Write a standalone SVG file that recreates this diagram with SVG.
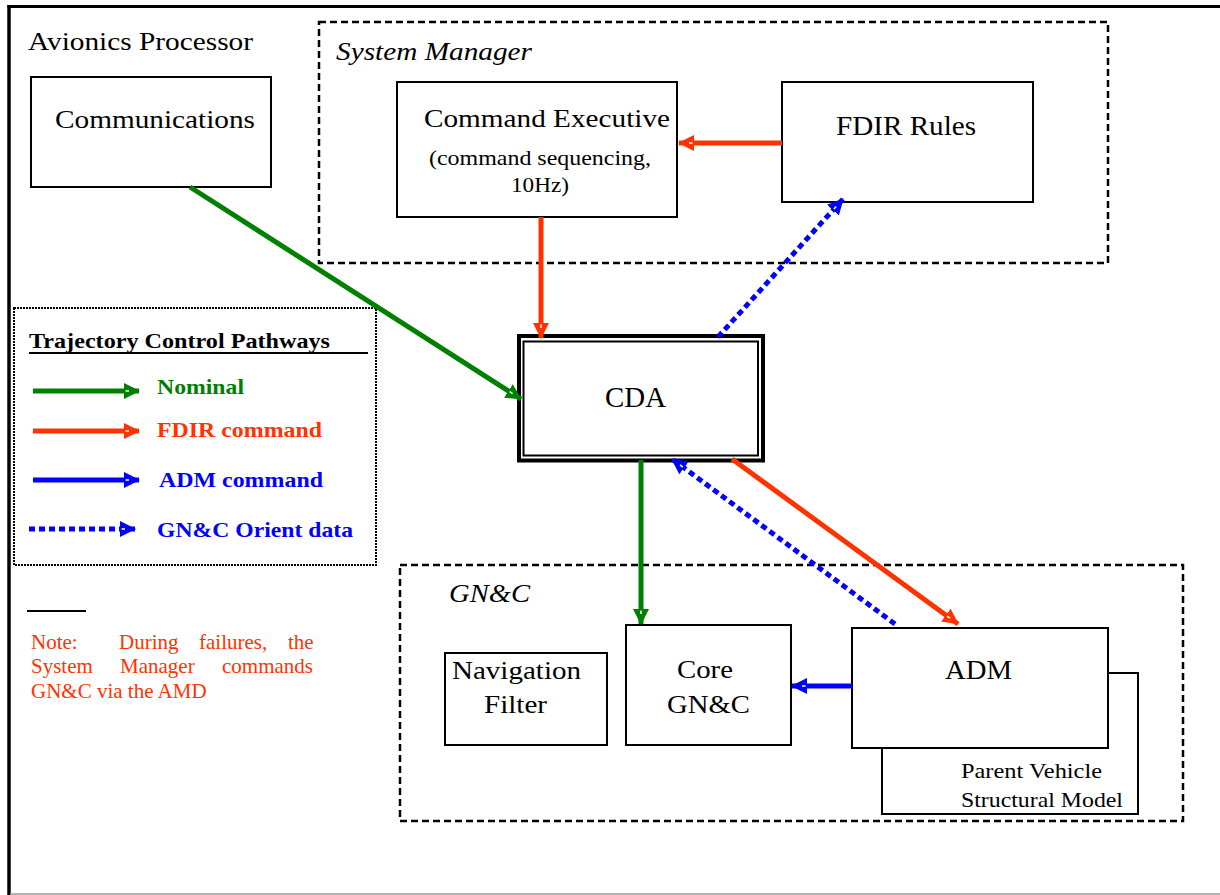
<svg xmlns="http://www.w3.org/2000/svg" width="1220" height="895" viewBox="0 0 1220 895">
  <style>
    .box { fill: #fff; stroke: #000; stroke-width: 2; }
    .grp { fill: none; stroke: #000; stroke-width: 2.5; stroke-dasharray: 7 4; }
    .t { font-family: "Liberation Serif", "Times New Roman", serif; fill: #000; }
    .it { font-style: italic; }
    .b { font-weight: bold; }
    .green { stroke: #008000; }
    .red { stroke: #FF3300; }
    .blue { stroke: #0000FF; }
    .ln { fill: none; stroke-width: 5; }
    .dot { stroke-dasharray: 6 4; }
    .note { font-family: "Liberation Serif", "Times New Roman", serif; fill: #FF3300; font-size: 21px; }
  </style>
  <defs>
    <marker id="ahGreen" viewBox="0 0 16 16" refX="15" refY="8" markerWidth="16" markerHeight="16" markerUnits="userSpaceOnUse" orient="auto">
      <path d="M0,0 L16,8 L0,16 Z" fill="#008000"/>
      <path d="M1.5,8 H5" stroke="#fff" stroke-width="1.5"/>
    </marker>
    <marker id="ahRed" viewBox="0 0 16 16" refX="15" refY="8" markerWidth="16" markerHeight="16" markerUnits="userSpaceOnUse" orient="auto">
      <path d="M0,0 L16,8 L0,16 Z" fill="#FF3300"/>
      <path d="M1.5,8 H5" stroke="#fff" stroke-width="1.5"/>
    </marker>
    <marker id="ahBlue" viewBox="0 0 16 16" refX="15" refY="8" markerWidth="16" markerHeight="16" markerUnits="userSpaceOnUse" orient="auto">
      <path d="M0,0 L16,8 L0,16 Z" fill="#0000FF"/>
      <path d="M1.5,8 H5" stroke="#fff" stroke-width="1.5"/>
    </marker>
  </defs>

  <rect x="0" y="0" width="1220" height="895" fill="#fff"/>

  <!-- processor frame -->
  <g id="frame">
    <line x1="7.5" y1="6.5" x2="1220" y2="6.5" stroke="#000" stroke-width="3"/>
    <line x1="9" y1="5" x2="9" y2="895" stroke="#000" stroke-width="3.5"/>
    <line x1="10" y1="894" x2="1220" y2="894" stroke="#999" stroke-width="1.5"/>
    <text class="t" x="28" y="50" font-size="26" textLength="225" lengthAdjust="spacingAndGlyphs">Avionics Processor</text>
  </g>

  <g id="communications">
    <rect class="box" x="31" y="77" width="240" height="110" stroke-width="1.5"/>
    <text class="t" x="55" y="128" font-size="26" textLength="200" lengthAdjust="spacingAndGlyphs">Communications</text>
  </g>

  <g id="system-manager">
    <rect class="grp" x="319" y="22" width="789" height="241"/>
    <text class="t it" x="336" y="60" font-size="26" textLength="196" lengthAdjust="spacingAndGlyphs">System Manager</text>
  </g>

  <g id="command-executive">
    <rect class="box" x="397" y="82" width="280" height="135"/>
    <text class="t" x="424" y="127" font-size="26" textLength="246" lengthAdjust="spacingAndGlyphs">Command Executive</text>
    <text class="t" x="429" y="165" font-size="22" textLength="222" lengthAdjust="spacingAndGlyphs">(command sequencing,</text>
    <text class="t" x="511" y="192" font-size="22" textLength="58" lengthAdjust="spacingAndGlyphs">10Hz)</text>
  </g>

  <g id="fdir-rules">
    <rect class="box" x="782" y="82" width="251" height="120"/>
    <text class="t" x="836" y="135" font-size="27" textLength="140" lengthAdjust="spacingAndGlyphs">FDIR Rules</text>
  </g>

  <g id="gnc">
    <rect class="grp" x="400" y="565" width="783" height="256"/>
    <text class="t it" x="449" y="602" font-size="25" textLength="81" lengthAdjust="spacingAndGlyphs">GN&amp;C</text>
  </g>

  <g id="navigation-filter">
    <rect class="box" x="445" y="653" width="162" height="92"/>
    <text class="t" x="452" y="679" font-size="26" textLength="129" lengthAdjust="spacingAndGlyphs">Navigation</text>
    <text class="t" x="484" y="713" font-size="26" textLength="63" lengthAdjust="spacingAndGlyphs">Filter</text>
  </g>

  <g id="core-gnc">
    <rect class="box" x="626" y="625" width="165" height="120"/>
    <text class="t" x="677" y="678" font-size="26" textLength="56" lengthAdjust="spacingAndGlyphs">Core</text>
    <text class="t" x="667" y="713" font-size="26" textLength="83" lengthAdjust="spacingAndGlyphs">GN&amp;C</text>
  </g>

  <g id="parent-vehicle-model">
    <rect class="box" x="882" y="673" width="256" height="141"/>
    <text class="t" x="961" y="778" font-size="22" textLength="141" lengthAdjust="spacingAndGlyphs">Parent Vehicle</text>
    <text class="t" x="961" y="807" font-size="22" textLength="162" lengthAdjust="spacingAndGlyphs">Structural Model</text>
  </g>

  <g id="adm">
    <rect class="box" x="852" y="628" width="256" height="120"/>
    <text class="t" x="945" y="679" font-size="27" textLength="67" lengthAdjust="spacingAndGlyphs">ADM</text>
  </g>

  <g id="cda">
    <rect x="519" y="336" width="244" height="124.5" fill="#fff" stroke="#000" stroke-width="4"/>
    <rect x="523.5" y="341.5" width="234.5" height="114" fill="none" stroke="#000" stroke-width="2"/>
    <text class="t" x="605" y="407" font-size="29" textLength="61" lengthAdjust="spacingAndGlyphs">CDA</text>
  </g>

  <!-- pathway legend -->
  <g id="legend">
    <rect x="14" y="308" width="362" height="257" fill="none" stroke="#000" stroke-width="2" stroke-dasharray="2 1"/>
    <text class="t b" x="29" y="348" font-size="22" textLength="301" lengthAdjust="spacingAndGlyphs">Trajectory Control Pathways</text>
    <line x1="29" y1="353" x2="368" y2="353" stroke="#000" stroke-width="2"/>
    <line class="ln green" x1="33" y1="391" x2="139" y2="391" marker-end="url(#ahGreen)"/>
    <text class="t b" x="157" y="394" font-size="22" fill="#008000" style="fill:#008000" textLength="87" lengthAdjust="spacingAndGlyphs">Nominal</text>
    <line class="ln red" x1="33" y1="431" x2="139" y2="431" marker-end="url(#ahRed)"/>
    <text class="t b" x="157" y="437" font-size="22" style="fill:#FF3300" textLength="165" lengthAdjust="spacingAndGlyphs">FDIR command</text>
    <line class="ln blue" x1="33" y1="480" x2="139" y2="480" marker-end="url(#ahBlue)"/>
    <text class="t b" x="159" y="487" font-size="22" style="fill:#0000FF" textLength="164" lengthAdjust="spacingAndGlyphs">ADM command</text>
    <line class="ln blue dot" x1="29" y1="529" x2="135" y2="529" marker-end="url(#ahBlue)"/>
    <text class="t b" x="157" y="537" font-size="22" style="fill:#0000FF" textLength="196" lengthAdjust="spacingAndGlyphs">GN&amp;C Orient data</text>
  </g>

  <g id="note">
    <line x1="27" y1="611" x2="86" y2="611" stroke="#000" stroke-width="2"/>
    <text class="note" x="31" y="649">Note:</text>
    <text class="note" x="119" y="649">During</text>
    <text class="note" x="199" y="649">failures,</text>
    <text class="note" x="288" y="649">the</text>
    <text class="note" x="31" y="673">System</text>
    <text class="note" x="120" y="673">Manager</text>
    <text class="note" x="222" y="673">commands</text>
    <text class="note" x="31" y="698">GN&amp;C via the AMD</text>
  </g>

  <!-- pathways between blocks -->
  <g id="connectors">
    <line class="ln green" x1="190" y1="187" x2="521" y2="399" marker-end="url(#ahGreen)"/>
    <line class="ln red" stroke-width="6" x1="782" y1="143" x2="679" y2="143" marker-end="url(#ahRed)"/>
    <line class="ln red" x1="541" y1="217" x2="541" y2="338" marker-end="url(#ahRed)"/>
    <line class="ln blue dot" x1="718" y1="337" x2="843" y2="199" marker-end="url(#ahBlue)"/>
    <line class="ln green" x1="641" y1="460" x2="641" y2="624" marker-end="url(#ahGreen)"/>
    <line class="ln blue dot" x1="895" y1="624" x2="672" y2="459" marker-end="url(#ahBlue)"/>
    <line class="ln red" stroke-width="6" x1="732" y1="459" x2="958" y2="624" marker-end="url(#ahRed)"/>
    <line class="ln blue" x1="852" y1="686" x2="792" y2="686" marker-end="url(#ahBlue)"/>
  </g>
</svg>
